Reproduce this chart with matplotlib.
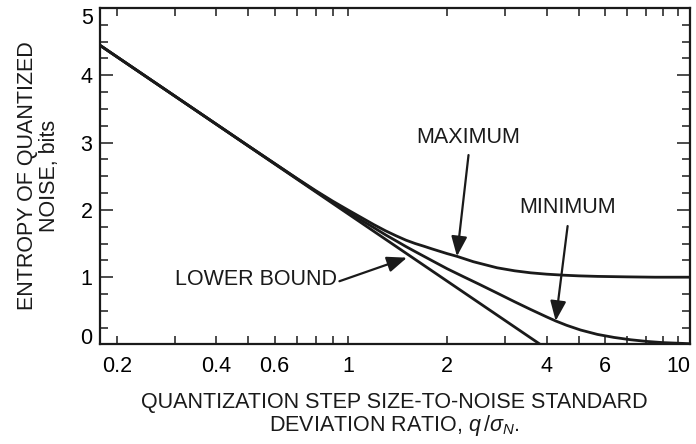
import matplotlib
matplotlib.use("Agg")
import matplotlib.pyplot as plt
from matplotlib.ticker import FixedLocator, NullFormatter, MultipleLocator

plt.rcParams['font.family'] = ['Liberation Sans', 'DejaVu Sans']
plt.rcParams['mathtext.fontset'] = 'custom'
plt.rcParams['mathtext.rm'] = 'Liberation Sans'
plt.rcParams['mathtext.it'] = 'Liberation Sans:italic'

# ---- data ----
lower_x = [0.177, 3.83]
lower_y = [4.45, 0.0]

max_x = [0.177, 0.5, 0.7, 0.8, 0.9, 1.0, 1.1, 1.2, 1.3, 1.4, 1.5, 1.6, 1.7,
         1.8, 2.0, 2.14, 2.4, 2.83, 3.2, 3.58, 4.0, 4.5, 5.0, 5.7, 7.0, 8.5, 10.85]
max_y = [4.45, 2.95, 2.47, 2.285, 2.13, 2.0, 1.885, 1.78, 1.69, 1.615, 1.55,
         1.50, 1.46, 1.42, 1.35, 1.31, 1.23, 1.14, 1.095, 1.065, 1.045, 1.03,
         1.02, 1.012, 1.005, 1.0, 1.0]

min_x = [0.177, 0.5, 0.7, 0.8, 0.9, 1.0, 1.1, 1.2, 1.3, 1.4, 1.5, 1.6, 1.8,
         2.0, 2.245, 2.5, 2.83, 3.2, 3.58, 4.0, 4.26, 4.6, 5.07, 5.7, 6.4, 7.2,
         8.07, 9.0, 10.85]
min_y = [4.45, 2.95, 2.467, 2.275, 2.115, 1.97, 1.845, 1.735, 1.63, 1.54,
         1.455, 1.38, 1.245, 1.125, 1.005, 0.895, 0.765, 0.635, 0.52, 0.41,
         0.35, 0.285, 0.215, 0.15, 0.105, 0.07, 0.045, 0.028, 0.012]

x_tick_values = [0.2, 0.4, 0.6, 1, 2, 4, 6, 10]
x_tick_labels = ['0.2', '0.4', '0.6', '1', '2', '4', '6', '10']
x_minor_values = [0.3, 0.5, 0.7, 0.8, 0.9, 3, 5, 7, 8, 9]
y_tick_values = [0, 1, 2, 3, 4, 5]

FS = 15.5
INK = '#1a1a1a'

# ---- figure ----
fig = plt.figure(figsize=(6.96, 4.44), dpi=100)
ax = fig.add_axes([0.1430, 0.2241, 0.8480, 0.7579])

lw = 2.0
ax.plot(lower_x, lower_y, color=INK, lw=lw, solid_capstyle='butt')
ax.plot(max_x, max_y, color=INK, lw=lw)
ax.plot(min_x, min_y, color=INK, lw=lw)

ax.set_xscale('log')
ax.set_xlim(0.177, 10.85)
ax.set_ylim(0, 5)

ax.xaxis.set_major_locator(FixedLocator(x_tick_values))
ax.set_xticklabels(x_tick_labels)
ax.xaxis.set_minor_locator(FixedLocator(x_minor_values))
ax.xaxis.set_minor_formatter(NullFormatter())
ax.yaxis.set_major_locator(FixedLocator(y_tick_values))
ax.yaxis.set_minor_locator(MultipleLocator(0.25))

for s in ax.spines.values():
    s.set_linewidth(1.6)
    s.set_color(INK)

ax.tick_params(axis='x', which='both', direction='in', top=True, bottom=True,
               length=5.8, width=1.1, color=INK, labelsize=FS, pad=8)
ax.tick_params(axis='y', which='major', direction='in', left=True, right=True,
               length=9.4, width=1.1, color=INK, labelsize=FS, pad=5)
ax.tick_params(axis='y', which='minor', direction='in', left=True, right=True,
               length=5.8, width=1.1, color=INK)

ylabels = ax.get_yticklabels()
ylabels[0].set_va('baseline')
ylabels[-1].set_va('top')

# ---- annotations ----
arrow_kw = dict(arrowstyle='-|>,head_length=0.6,head_width=0.24', color=INK,
                lw=1.6, mutation_scale=20, shrinkA=0, shrinkB=0)
ax.annotate('', xy=(2.14, 1.31), xytext=(2.32, 2.815), arrowprops=arrow_kw)
ax.text(2.32, 3.07, 'MAXIMUM', ha='center', va='center', fontsize=FS, color=INK)

ax.annotate('', xy=(4.26, 0.35), xytext=(4.63, 1.76), arrowprops=arrow_kw)
ax.text(4.63, 2.03, 'MINIMUM', ha='center', va='center', fontsize=FS, color=INK)

ax.annotate('', xy=(1.51, 1.29), xytext=(0.943, 0.94), arrowprops=arrow_kw)
ax.text(0.93, 0.96, 'LOWER BOUND', ha='right', va='center', fontsize=FS, color=INK)

# ---- axis titles ----
fig.text(38.5 / 696, 1 - 176 / 444, 'ENTROPY OF QUANTIZED\nNOISE, bits',
         rotation=90, ha='center', va='center', multialignment='center',
         fontsize=FS, linespacing=1.1, color=INK)
fig.text(394.6 / 696, 1 - 415 / 444,
         'QUANTIZATION STEP SIZE-TO-NOISE STANDARD\nDEVIATION RATIO, $q\\,/\\sigma_N$.',
         ha='center', va='center', multialignment='center',
         fontsize=FS, linespacing=1.0, color=INK)

fig.savefig('out.png', dpi=100)
